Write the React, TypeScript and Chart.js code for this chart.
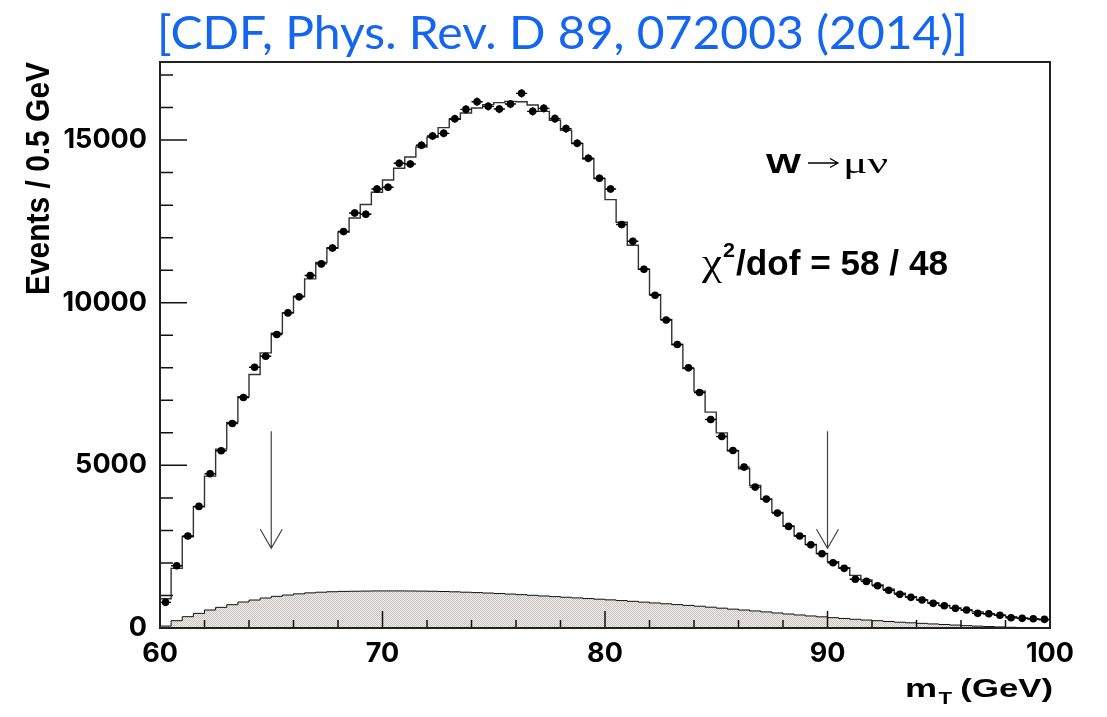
import { useEffect, useRef } from 'react';
import { Chart, registerables } from 'chart.js';

Chart.register(...registerables);

// ---------- data ----------
const X_MIN = 60;
const X_MAX = 100;
const BIN_WIDTH = 0.5;
const Y_MAX = 17400;
const X_TICKS = [60, 70, 80, 90, 100];
const Y_TICKS = [0, 5000, 10000, 15000];

const DATA_COUNTS = [
  788, 1915, 2826, 3739, 4740, 5447, 6288, 7088, 8018, 8356,
  9023, 9687, 10180, 10835, 11193, 11684, 12187, 12760, 12720, 13497,
  13548, 14286, 14264, 14839, 15125, 15207, 15655, 15945, 16180, 16037,
  15954, 16108, 16436, 15883, 15975, 15659, 15352, 14900, 14439, 13825,
  13497, 12403, 11889, 11029, 10230, 9467, 8716, 7997, 7241, 6411,
  5889, 5459, 4946, 4332, 3963, 3533, 3124, 2826, 2559, 2283,
  2006, 1834, 1500, 1433, 1300, 1162, 1034, 943, 860, 758,
  686, 604, 553, 451, 440, 390, 317, 297, 286, 266,
];

const MC_PREDICTION = [
  900, 1833, 2806, 3728, 4670, 5499, 6318, 7107, 7795, 8458,
  9060, 9687, 10200, 10732, 11235, 11684, 12176, 12606, 13018, 13395,
  13773, 14132, 14480, 14787, 15085, 15382, 15638, 15831, 15985, 16089,
  16151, 16190, 16180, 16077, 15883, 15607, 15300, 14890, 14418, 13815,
  13170, 12473, 11767, 11029, 10252, 9484, 8716, 7978, 7281, 6636,
  6000, 5447, 4894, 4384, 3963, 3554, 3134, 2836, 2571, 2295,
  2037, 1853, 1619, 1475, 1321, 1189, 1066, 960, 865, 775,
  695, 620, 555, 495, 440, 392, 348, 310, 278, 250,
];

const BACKGROUND = [
  60, 225, 348, 450, 553, 635, 717, 799, 860, 922,
  973, 1014, 1050, 1080, 1100, 1115, 1125, 1130, 1135, 1140,
  1140, 1140, 1138, 1135, 1130, 1122, 1112, 1100, 1088, 1075,
  1060, 1043, 1025, 1005, 985, 965, 945, 925, 905, 885,
  865, 843, 820, 795, 770, 745, 720, 695, 670, 640,
  610, 580, 553, 525, 495, 462, 430, 400, 370, 343,
  317, 293, 268, 245, 225, 200, 178, 160, 143, 125,
  108, 90, 72, 58, 45, 33, 22, 15, 10, 6,
];

const FIT_RANGE_ARROWS = [65, 90];
const ARROW_TOP = 6050;
const ARROW_TIP = 2450;

const TITLE = '[CDF, Phys. Rev. D 89, 072003 (2014)]';
const Y_TITLE = 'Events / 0.5 GeV';
const CHI2_TEXT = '/dof = 58 / 48';

// ---------- helpers ----------
const binCenters = DATA_COUNTS.map((_, i) => X_MIN + BIN_WIDTH * (i + 0.5));
const dataPoints = DATA_COUNTS.map((v, i) => ({ x: binCenters[i], y: v }));
function stepPoints(vals: number[]) {
  const pts = vals.map((v, i) => ({ x: X_MIN + BIN_WIDTH * i, y: v }));
  pts.push({ x: X_MAX, y: vals[vals.length - 1] });
  return pts;
}

function fitText(ctx: CanvasRenderingContext2D, text: string, font: string, x: number, y: number, width: number, color = '#000') {
  ctx.save();
  ctx.font = font;
  ctx.fillStyle = color;
  ctx.textAlign = 'left';
  ctx.textBaseline = 'alphabetic';
  const w = ctx.measureText(text).width;
  ctx.translate(x, y);
  ctx.scale(width / w, 1);
  ctx.fillText(text, 0, 0);
  ctx.restore();
}

const decorPlugin = {
  id: 'decor',
  afterDatasetsDraw(chart: any) {
    const ctx: CanvasRenderingContext2D = chart.ctx;
    const xs = chart.scales.x;
    const ys = chart.scales.y;
    const { left, right, top, bottom } = chart.chartArea;

    // error bars
    ctx.save();
    ctx.strokeStyle = '#000';
    ctx.lineWidth = 1.4;
    DATA_COUNTS.forEach((v, i) => {
      const cx = xs.getPixelForValue(binCenters[i]);
      const cy = ys.getPixelForValue(v);
      const x0 = xs.getPixelForValue(binCenters[i] - BIN_WIDTH / 2);
      const x1 = xs.getPixelForValue(binCenters[i] + BIN_WIDTH / 2);
      const e = Math.sqrt(v);
      ctx.beginPath();
      ctx.moveTo(x0, cy);
      ctx.lineTo(x1, cy);
      ctx.moveTo(cx, ys.getPixelForValue(v - e));
      ctx.lineTo(cx, ys.getPixelForValue(v + e));
      ctx.stroke();
    });
    ctx.restore();

    // arrows
    ctx.save();
    ctx.strokeStyle = '#444';
    ctx.lineWidth = 1.2;
    FIT_RANGE_ARROWS.forEach((xv) => {
      const px = xs.getPixelForValue(xv);
      const pTop = ys.getPixelForValue(ARROW_TOP);
      const pTip = ys.getPixelForValue(ARROW_TIP);
      ctx.beginPath();
      ctx.moveTo(px, pTop);
      ctx.lineTo(px, pTip);
      ctx.moveTo(px - 11, pTip - 19);
      ctx.lineTo(px, pTip);
      ctx.lineTo(px + 11, pTip - 19);
      ctx.stroke();
    });
    ctx.restore();

    // axis ticks (inside)
    ctx.save();
    ctx.strokeStyle = '#111';
    ctx.lineWidth = 1.5;
    ctx.beginPath();
    for (let v = X_MIN; v <= X_MAX + 1e-6; v += 2) {
      const px = xs.getPixelForValue(v);
      const len = X_TICKS.includes(v) ? 17 : 8;
      ctx.moveTo(px, bottom);
      ctx.lineTo(px, bottom - len);
    }
    for (let v = 0; v <= Y_MAX; v += 1000) {
      const py = ys.getPixelForValue(v);
      const len = Y_TICKS.includes(v) ? 27 : 13;
      ctx.moveTo(left, py);
      ctx.lineTo(left + len, py);
    }
    ctx.stroke();
    // frame
    ctx.lineWidth = 2;
    ctx.strokeStyle = '#222';
    ctx.strokeRect(left, top, right - left, bottom - top);
    ctx.restore();

    // texts
    fitText(ctx, TITLE, '46px Lato', 157, 49, 811, '#1466f0');

    // W -> mu nu
    fitText(ctx, 'W', 'bold 27px "Liberation Sans"', 766, 173, 35);
    ctx.save();
    ctx.strokeStyle = '#000';
    ctx.lineWidth = 1.3;
    ctx.beginPath();
    ctx.moveTo(808, 163);
    ctx.lineTo(837, 163);
    ctx.moveTo(830, 158.5);
    ctx.lineTo(838, 163);
    ctx.lineTo(830, 167.5);
    ctx.stroke();
    ctx.restore();
    fitText(ctx, '\u03bc\u03bd', '30px "Liberation Serif"', 843, 173, 45);

    // chi2
    fitText(ctx, '\u03c7', '37px "Liberation Serif"', 702, 275, 20);
    fitText(ctx, '2', 'bold 21px "Liberation Sans"', 723, 257, 12);
    fitText(ctx, CHI2_TEXT, 'bold 35px "Liberation Sans"', 736, 275, 212);

    // x title m_T (GeV)
    ctx.save();
    ctx.fillStyle = '#000';
    ctx.textBaseline = 'alphabetic';
    const fM = 'bold 26px "Liberation Sans"';
    const fT = 'bold 16px "Liberation Sans"';
    const fG = 'bold 25px "Liberation Sans"';
    ctx.font = fM; const wM = ctx.measureText('m').width;
    ctx.font = fT; const wT = ctx.measureText('T').width;
    ctx.font = fG; const wG = ctx.measureText(' (GeV)').width;
    const s = 148 / (wM + wT + wG);
    ctx.translate(905, 697);
    ctx.scale(s, 1);
    ctx.font = fM; ctx.fillText('m', 0, 0);
    ctx.font = fT; ctx.fillText('T', wM + 1, 7);
    ctx.font = fG; ctx.fillText(' (GeV)', wM + wT, 0);
    ctx.restore();

    // y title
    ctx.save();
    ctx.fillStyle = '#000';
    ctx.font = 'bold 33px "Liberation Sans"';
    ctx.textAlign = 'right';
    ctx.textBaseline = 'alphabetic';
    const wy = ctx.measureText(Y_TITLE).width;
    ctx.translate(49, 62);
    ctx.rotate(-Math.PI / 2);
    ctx.scale(233 / wy, 1);
    ctx.fillText(Y_TITLE, 0, 0);
    ctx.restore();
  },
};

export default function App() {
  const ref = useRef<HTMLCanvasElement>(null);
  useEffect(() => {
    const canvas = ref.current!;
    const ctx = canvas.getContext('2d')!;
    const pc = document.createElement('canvas');
    pc.width = 2;
    pc.height = 2;
    const p = pc.getContext('2d')!;
    p.fillStyle = '#f2f0ee';
    p.fillRect(0, 0, 2, 2);
    p.fillStyle = '#c8c1bb';
    p.fillRect(0, 0, 1, 1);
    p.fillRect(1, 1, 1, 1);
    const pattern = ctx.createPattern(pc, 'repeat');

    const tickFont = { family: 'Inter', weight: 'bold' as const, size: 27 };
    const chart = new Chart(canvas, {
      type: 'scatter',
      data: {
        datasets: [
          {
            label: 'Data',
            data: dataPoints,
            pointRadius: 3.8,
            pointBackgroundColor: '#000',
            pointBorderColor: '#000',
            pointBorderWidth: 0,
            order: 0,
          },
          {
            label: 'Simulation',
            type: 'line',
            data: stepPoints(MC_PREDICTION),
            stepped: 'before',
            borderColor: '#333',
            borderWidth: 1.4,
            pointRadius: 0,
            fill: false,
            order: 1,
          } as any,
          {
            label: 'Background',
            type: 'line',
            data: stepPoints(BACKGROUND),
            stepped: 'before',
            borderColor: '#111',
            borderWidth: 1,
            pointRadius: 0,
            fill: 'origin',
            backgroundColor: pattern,
            order: 2,
          } as any,
        ],
      },
      options: {
        animation: false,
        responsive: false,
        devicePixelRatio: 1,
        layout: { padding: { top: 62, right: 57, left: 0, bottom: 0 } },
        plugins: { legend: { display: false }, tooltip: { enabled: false } },
        scales: {
          x: {
            type: 'linear',
            min: X_MIN,
            max: X_MAX,
            afterFit: (s: any) => { s.height = 89; },
            afterBuildTicks: (s: any) => { s.ticks = X_TICKS.map((value) => ({ value })); },
            grid: { display: false, drawTicks: false },
            border: { display: false },
            ticks: { padding: 10, font: tickFont, color: '#000', maxRotation: 0, autoSkip: false, callback: (v: any) => String(v) },
          },
          y: {
            type: 'linear',
            min: 0,
            max: Y_MAX,
            afterFit: (s: any) => { s.width = 160; },
            afterBuildTicks: (s: any) => { s.ticks = Y_TICKS.map((value) => ({ value })); },
            grid: { display: false, drawTicks: false },
            border: { display: false },
            ticks: { padding: 13, font: tickFont, color: '#000', autoSkip: false, callback: (v: any) => String(v) },
          },
        },
      },
      plugins: [decorPlugin],
    });
    return () => chart.destroy();
  }, []);
  return (
    <div style={{ position: 'absolute', left: 0, top: 0, width: 1107, height: 717, background: '#fff' }}>
      <canvas ref={ref} width={1107} height={717} style={{ display: 'block', width: 1107, height: 717 }} />
    </div>
  );
}
